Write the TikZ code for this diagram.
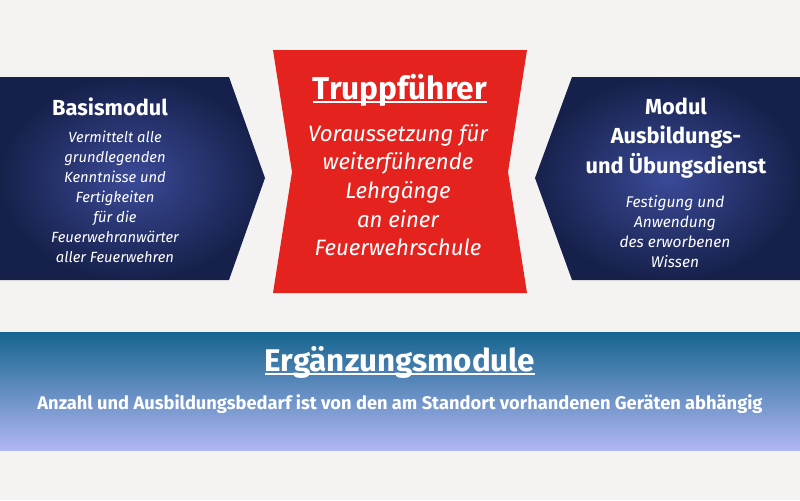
\documentclass[tikz,border=0pt]{standalone}
\usepackage{fontspec}
\setmainfont{Fira Sans}

\definecolor{paper}{HTML}{F5F3F1}
\definecolor{navy out}{HTML}{16214B}
\definecolor{navy in}{HTML}{3B4A98}
\definecolor{fire red}{HTML}{E4231F}
\definecolor{band top}{HTML}{15648F}
\definecolor{band bottom}{HTML}{B0B7F2}

\newcommand\undertext[1]{\setbox0\hbox{#1}\rlap{\rule[-0.13em]{\wd0}{0.07em}}\box0}

\begin{document}
\begin{tikzpicture}[x=0.025cm,y=-0.025cm,
  heading/.style={white,inner sep=0pt,align=center,font=\bfseries\fontsize{15.5}{21}\selectfont},
  blurb/.style={white,inner sep=0pt,align=center,font=\itshape\fontsize{10.5}{14.2}\selectfont}]
  \fill[paper,use as bounding box] (0,0) rectangle (800,500);

  \coordinate (basis tip) at (265,178);
  \coordinate (dienst notch) at (535,178);

  \shade[inner color=navy in,outer color=navy out] (0,77) -- (229,77) -- (basis tip) -- (229,280) -- (0,280) -- cycle;
  \shade[inner color=navy in,outer color=navy out] (800,77) -- (572,77) -- (dienst notch) -- (572,280) -- (800,280) -- cycle;
  \fill[fire red] (273,50) -- (527,50) -- (508,172) -- (527,293) -- (273,293) -- (292,172) -- cycle;
  \shade[top color=band top,bottom color=band bottom] (0,332) rectangle (800,450);

  \node[heading] (basis title) at (110,107) {Basismodul};
  \node[blurb] (basis text) at (115,197) {Vermittelt alle\\grundlegenden\\Kenntnisse und\\Fertigkeiten\\für die\\Feuerwehranwärter\\aller Feuerwehren};

  \node[heading] (dienst title) at (676,138) {Modul\\Ausbildungs-\\und Übungsdienst};
  \node[blurb,font=\itshape\fontsize{11}{14.2}\selectfont] (dienst text) at (675,232) {Festigung und\\Anwendung\\des erworbenen\\Wissen};

  \node[heading,font=\bfseries\fontsize{22.5}{26}\selectfont] (trupp title) at (400,90) {\undertext{Truppführer}};
  \node[blurb,font=\itshape\fontsize{15.8}{20.4}\selectfont] (trupp text) at (398,190) {Voraussetzung für\\weiterführende\\Lehrgänge\\an einer\\Feuerwehrschule};

  \node[heading,font=\bfseries\fontsize{22.3}{26}\selectfont] (extra title) at (400,362) {\undertext{Ergänzungsmodule}};
  \node[heading,font=\bfseries\fontsize{13}{15}\selectfont] (extra text) at (400,404) {Anzahl und Ausbildungsbedarf ist von den am Standort vorhandenen Geräten abhängig};
\end{tikzpicture}
\end{document}
